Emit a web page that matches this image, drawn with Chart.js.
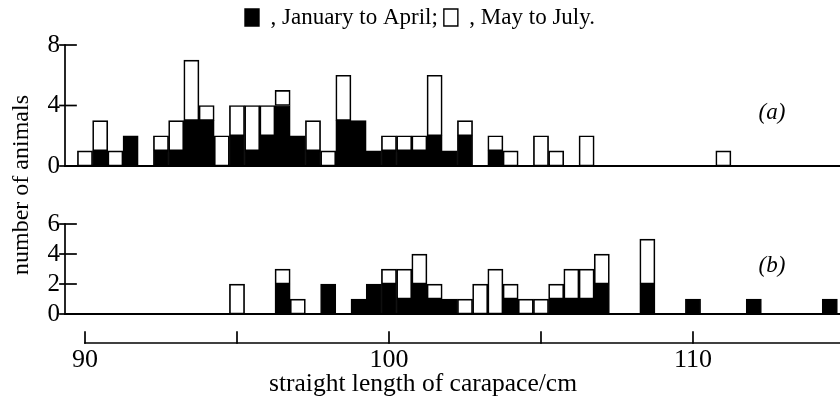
<!DOCTYPE html>
<html><head><meta charset="utf-8">
<script src="https://cdn.jsdelivr.net/npm/chart.js@4.4.1/dist/chart.umd.min.js"></script>
<style>html,body{margin:0;padding:0;background:#fff;} canvas{display:block;}</style>
</head><body>
<canvas id="c" width="840" height="405"></canvas>
<script>
// Panel (a): bin centres (cm) and counts
const binsA  = [90, 90.5, 91, 91.5, 92.5, 93, 93.5, 94, 94.5, 95, 95.5, 96, 96.5, 97, 97.5, 98, 98.5, 99, 99.5, 100, 100.5, 101, 101.5, 102, 102.5, 103.5, 104, 105, 105.5, 106.5, 111];
const blackA = [0, 1, 0, 2, 1, 1, 3, 3, 0, 2, 1, 2, 4, 2, 1, 0, 3, 3, 1, 1, 1, 1, 2, 1, 2, 1, 0, 0, 0, 0, 0];
const whiteA = [1, 2, 1, 0, 1, 2, 4, 1, 2, 2, 3, 2, 1, 0, 2, 1, 3, 0, 0, 1, 1, 1, 4, 0, 1, 1, 1, 2, 1, 2, 1];
// Panel (b)
const binsB  = [95, 96.5, 97, 98, 99, 99.5, 100, 100.5, 101, 101.5, 102, 102.5, 103, 103.5, 104, 104.5, 105, 105.5, 106, 106.5, 107, 108.5, 110, 112, 114.5];
const blackB = [0, 2, 0, 2, 1, 2, 2, 1, 2, 1, 1, 0, 0, 0, 1, 0, 0, 1, 1, 1, 2, 2, 1, 1, 1];
const whiteB = [2, 1, 1, 0, 0, 0, 1, 2, 2, 1, 0, 1, 2, 3, 1, 1, 1, 1, 2, 2, 2, 3, 0, 0, 0];

const xTicks = [90, 95, 100, 105, 110];
const xTickLabels = ['90', '', '100', '', '110'];
const yTicksA = [0, 2, 4, 6, 8];
const yLabelsA = ['0', '', '4', '', '8'];
const yTicksB = [0, 2, 4, 6];
const yLabelsB = ['0', '2', '4', '6'];
const legendLabels = [', January to April;', ', May to July.'];
const panelLabels = ['(a)', '(b)'];
const xTitle = 'straight length of carapace/cm';
const yTitle = 'number of animals';

const FONT = '"Liberation Serif", "Times New Roman", serif';
Chart.defaults.font.family = FONT;
Chart.defaults.color = '#000';

function pts(bins, vals) {
  return bins.map((b, i) => ({x: b, y: vals[i]})).filter(p => p.y > 0);
}

const panelAxes = {
  id: 'panelAxes',
  afterDatasetsDraw(chart) {
    const {ctx, chartArea, scales} = chart;
    const {x, ya, yb} = scales;
    const line = (x1, y1, x2, y2) => { ctx.beginPath(); ctx.moveTo(x1, y1); ctx.lineTo(x2, y2); ctx.stroke(); };
    ctx.save();
    ctx.strokeStyle = '#000';
    ctx.lineCap = 'square';
    const ax = chartArea.left;
    for (const s of [ya, yb]) {
      const y0 = s.getPixelForValue(0);
      const yTop = s.getPixelForValue(s.ticks[s.ticks.length - 1].value);
      ctx.lineWidth = 2;
      line(ax, y0, chartArea.right, y0);
      ctx.lineWidth = 1.7;
      line(ax, yTop, ax, y0);
      for (const t of s.ticks) {
        const py = s.getPixelForValue(t.value);
        line(ax - 5, py, ax + 11, py);
      }
    }
    const yx = chartArea.bottom;
    ctx.lineWidth = 1.7;
    line(x.getPixelForValue(xTicks[0]), yx, chartArea.right, yx);
    for (const t of x.ticks) {
      const px = x.getPixelForValue(t.value);
      line(px, yx, px, yx - 11);
    }
    // panel labels
    ctx.fillStyle = '#000';
    ctx.textAlign = 'center';
    ctx.textBaseline = 'middle';
    ctx.font = 'italic 23px ' + FONT;
    ctx.fillText(panelLabels[0], x.getPixelForValue(112.6), ya.getPixelForValue(3.5));
    ctx.fillText(panelLabels[1], x.getPixelForValue(112.6), yb.getPixelForValue(3.2));
    // axis titles
    ctx.font = '25.5px ' + FONT;
    ctx.fillText(xTitle, 423, 384);
    ctx.font = '24px ' + FONT;
    ctx.translate(22, 185);
    ctx.rotate(-Math.PI / 2);
    ctx.fillText(yTitle, 0, 0);
    ctx.restore();
  }
};

const common = {grouped: false, borderColor: '#000', borderSkipped: false, barPercentage: 1, categoryPercentage: 1};

new Chart(document.getElementById('c'), {
  type: 'bar',
  data: {
    datasets: [
      Object.assign({label: 'a Jan-Apr', data: pts(binsA, blackA), yAxisID: 'ya', stack: 'a', backgroundColor: '#000', borderWidth: 1}, common),
      Object.assign({label: 'a May-Jul', data: pts(binsA, whiteA), yAxisID: 'ya', stack: 'a', backgroundColor: '#fff', borderWidth: 1.7}, common),
      Object.assign({label: 'b Jan-Apr', data: pts(binsB, blackB), yAxisID: 'yb', stack: 'b', backgroundColor: '#000', borderWidth: 1}, common),
      Object.assign({label: 'b May-Jul', data: pts(binsB, whiteB), yAxisID: 'yb', stack: 'b', backgroundColor: '#fff', borderWidth: 1.7}, common)
    ]
  },
  options: {
    responsive: false,
    animation: false,
    devicePixelRatio: 1,
    layout: {padding: {top: 0, left: 0, right: 0, bottom: 0}},
    plugins: {
      tooltip: {enabled: false},
      title: {display: false},
      legend: {
        display: true,
        position: 'top',
        align: 'center',
        labels: {
          boxWidth: 14, boxHeight: 17, padding: 6, color: '#000',
          font: {size: 23},
          generateLabels: () => legendLabels.map((t, i) => ({
            text: t, fillStyle: i ? '#fff' : '#000', strokeStyle: '#000', lineWidth: 1.4,
            hidden: false, datasetIndex: i, fontColor: '#000'
          }))
        }
      }
    },
    scales: {
      x: {
        type: 'linear', position: 'bottom', min: 89.342, max: 114.836, stacked: true, offset: false,
        afterBuildTicks: s => { s.ticks = xTicks.map(v => ({value: v})); },
        afterFit: s => { s.height = 62; },
        grid: {display: false, drawTicks: false, offset: false}, border: {display: false},
        ticks: {padding: 2, color: '#000', font: {size: 26}, maxRotation: 0, autoSkip: false,
          callback: (v, i) => xTickLabels[i]}
      },
      ya: {
        type: 'linear', position: 'left', stack: 'panels', stackWeight: 127, weight: 1,
        min: 0, max: 8.397, stacked: true,
        afterBuildTicks: s => { s.ticks = yTicksA.map(v => ({value: v})); },
        afterFit: s => { s.width = 65; },
        grid: {display: false, drawTicks: false}, border: {display: false},
        ticks: {padding: 5, color: '#000', font: {size: 25}, callback: (v, i) => yLabelsA[i]}
      },
      yb: {
        type: 'linear', position: 'left', stack: 'panels', stackWeight: 177, weight: 0,
        min: -1.933, max: 9.867, stacked: true,
        afterBuildTicks: s => { s.ticks = yTicksB.map(v => ({value: v})); },
        afterFit: s => { s.width = 65; },
        grid: {display: false, drawTicks: false}, border: {display: false},
        ticks: {padding: 5, color: '#000', font: {size: 25}, callback: (v, i) => yLabelsB[i]}
      }
    }
  },
  plugins: [panelAxes]
});
</script>
</body></html>
